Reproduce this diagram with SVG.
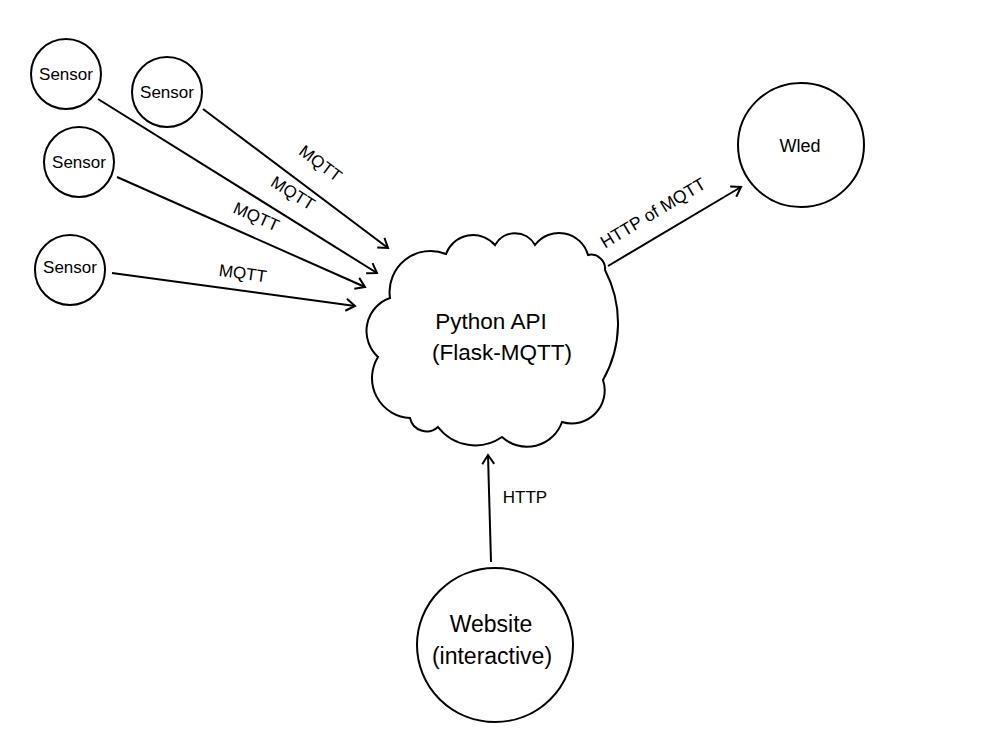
<svg xmlns="http://www.w3.org/2000/svg" width="1000" height="750" viewBox="0 0 1000 750">
<style>
  .node { fill: #fff; stroke: #000; stroke-width: 2; }
  .lbl { font-family: "Liberation Sans", Arial, sans-serif; fill: #000; text-anchor: middle; }
  .edge { stroke: #000; stroke-width: 2; fill: none; marker-end: url(#arr); }
  .elbl { font-family: "Liberation Sans", Arial, sans-serif; font-size: 17px; fill: #000; text-anchor: middle; }
</style>
<defs>
  <marker id="arr" markerUnits="userSpaceOnUse" markerWidth="14" markerHeight="14" refX="11" refY="7" orient="auto">
    <path d="M2,1 L11,7 L2,13" fill="none" stroke="#000" stroke-width="2"/>
  </marker>
</defs>
<rect width="1000" height="750" fill="#fff"/>
<g id="connectors">
  <line class="edge" x1="203" y1="109" x2="388" y2="248"/>
  <line class="edge" x1="98" y1="99" x2="377" y2="273"/>
  <line class="edge" x1="117" y1="177" x2="365" y2="287"/>
  <line class="edge" x1="112" y1="273" x2="355" y2="306"/>
  <line class="edge" x1="608" y1="266" x2="741" y2="187"/>
  <line class="edge" x1="491" y1="562" x2="488" y2="455"/>
  <text class="elbl" transform="translate(317,168) rotate(37)">MQTT</text>
  <text class="elbl" transform="translate(290,198) rotate(32)">MQTT</text>
  <text class="elbl" transform="translate(254,222) rotate(24)">MQTT</text>
  <text class="elbl" transform="translate(242,279) rotate(8)">MQTT</text>
  <text class="elbl" transform="translate(656,218) rotate(-31)" style="font-size:17.5px">HTTP of MQTT</text>
  <text class="elbl" x="525" y="503">HTTP</text>
</g>
<g id="sensor1">
  <ellipse class="node" cx="66" cy="74" rx="35" ry="35"/>
  <text class="lbl" x="66" y="80" font-size="17">Sensor</text>
</g>
<g id="sensor2">
  <ellipse class="node" cx="167" cy="92" rx="35" ry="35"/>
  <text class="lbl" x="167" y="98" font-size="17">Sensor</text>
</g>
<g id="sensor3">
  <ellipse class="node" cx="79" cy="162" rx="35" ry="35"/>
  <text class="lbl" x="79" y="168" font-size="17">Sensor</text>
</g>
<g id="sensor4">
  <ellipse class="node" cx="70" cy="270" rx="35" ry="35"/>
  <text class="lbl" x="70" y="273" font-size="17">Sensor</text>
</g>
<g id="python-api">
  <path class="node" d="M390,298 A41,41 0 0 1 446,254 A29,29 0 0 1 495,245 A23,23 0 0 1 535,245 A30,30 0 0 1 588,255 A14,14 0 0 1 605,270 A115,115 0 0 1 603,380 A33,33 0 0 1 562,422 A37,37 0 0 1 502,437 A47,47 0 0 1 438,427 A17,17 0 0 1 410,418 A40,40 0 0 1 378,357 A35,35 0 0 1 390,298 Z"/>
  <text class="lbl" x="491" y="329" font-size="22.5">Python API</text>
  <text class="lbl" x="502" y="360" font-size="22.5">(Flask-MQTT)</text>
</g>
<g id="wled">
  <ellipse class="node" cx="801" cy="145" rx="63" ry="62"/>
  <text class="lbl" x="800" y="152" font-size="18">Wled</text>
</g>
<g id="website">
  <ellipse class="node" cx="495" cy="645" rx="78" ry="77"/>
  <text class="lbl" x="491" y="632" font-size="23">Website</text>
  <text class="lbl" x="492" y="664" font-size="23">(interactive)</text>
</g>
</svg>
